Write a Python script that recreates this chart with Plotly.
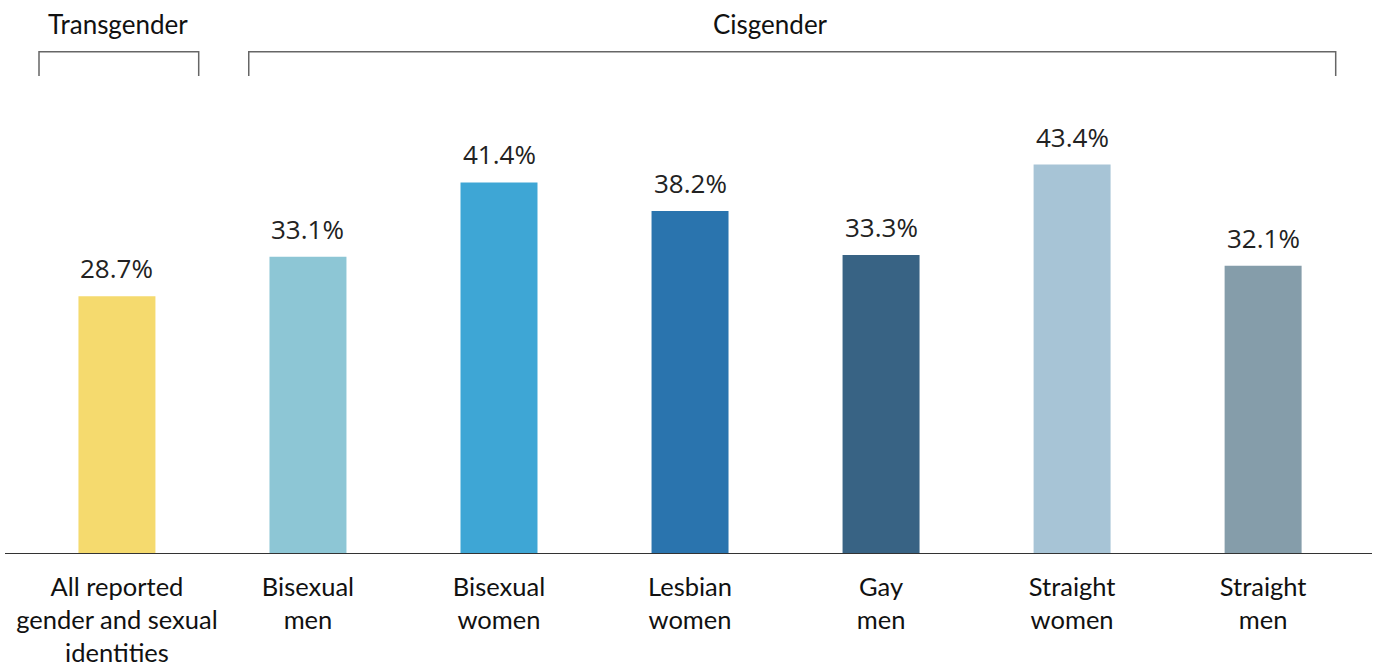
import plotly.graph_objects as go

categories = [
    "All reported<br>gender and sexual<br>identities",
    "Bisexual<br>men",
    "Bisexual<br>women",
    "Lesbian<br>women",
    "Gay<br>men",
    "Straight<br>women",
    "Straight<br>men",
]
values = [28.7, 33.1, 41.4, 38.2, 33.3, 43.4, 32.1]
colors = ["#F5DA6E", "#8DC6D5", "#3EA6D5", "#2A74AE", "#386384", "#A7C4D6", "#859DAA"]

group_labels = ["Transgender", "Cisgender"]
group_spans = [(-0.408, 0.428), (0.69, 6.38)]
group_label_x = [0.005, 3.42]

fig = go.Figure()
fig.add_trace(go.Bar(
    x=categories, y=values, marker=dict(color=colors, line=dict(width=0)),
    width=0.403, hoverinfo="skip",
))

for c, v in zip(categories, values):
    fig.add_annotation(
        x=c, y=v, text=f"{v:.1f}%", showarrow=False, yanchor="bottom", yshift=8,
        font=dict(family="Open Sans", size=26, color="#222"),
    )

for lab, (a, b), lx in zip(group_labels, group_spans, group_label_x):
    fig.add_shape(type="path",
                  path=f"M {a} 53.3 L {a} 56.0 L {b} 56.0 L {b} 53.3",
                  xref="x", yref="y", line=dict(color="#666", width=1.5))
    fig.add_annotation(x=lx, y=59.1, text=lab, showarrow=False, yanchor="middle",
                       font=dict(family="Lato", size=26, color="#111"))

fig.update_layout(
    width=1375, height=665,
    margin=dict(l=5, r=3, t=10, b=112),
    paper_bgcolor="white", plot_bgcolor="white",
    showlegend=False,
    xaxis=dict(range=[-0.586, 6.57], showgrid=False, showline=True, linecolor="#333",
               linewidth=1, ticks="", tickfont=dict(family="Lato", size=25.5, color="#111"),
               ticklabelstandoff=11, automargin=False),
    yaxis=dict(range=[0, 60.67], visible=False, automargin=False),
)
fig.write_html("out.html")
